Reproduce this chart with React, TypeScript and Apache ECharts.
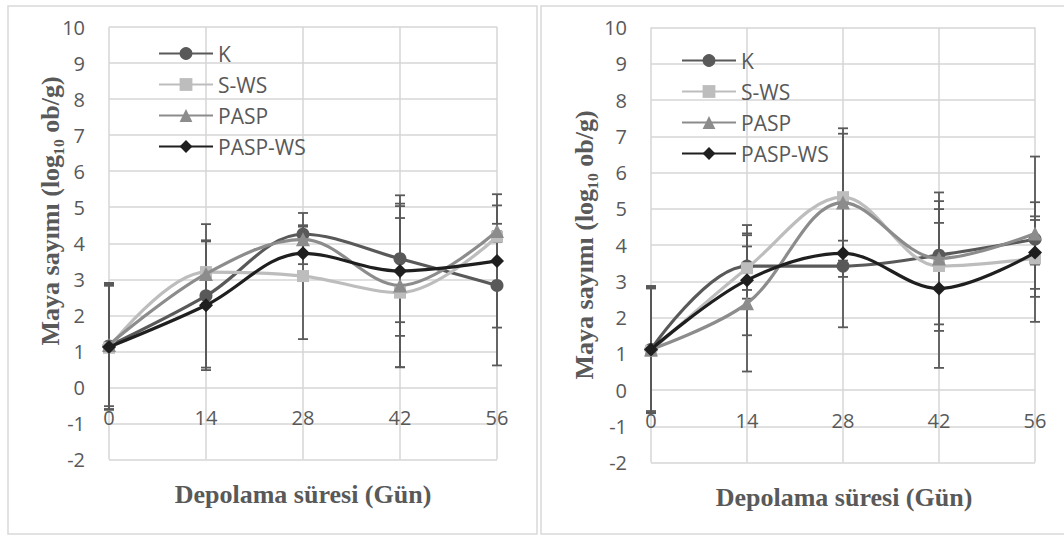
import React, { useEffect, useRef } from "react";
import * as echarts from "echarts";

const DAYS = [0, 14, 28, 42, 56];
const NAMES = ["K", "S-WS", "PASP", "PASP-WS"];
const Y_TICKS_MIN = -2;
const Y_TICKS_MAX = 10;

// Left chart values
const L_K = [1.15, 2.54, 4.25, 3.57, 2.83];
const L_SWS = [1.1, 3.2, 3.09, 2.63, 4.18];
const L_PASP = [1.18, 3.15, 4.11, 2.83, 4.34];
const L_PASPWS = [1.12, 2.28, 3.72, 3.23, 3.51];
// Left chart errors (±)
const L_K_ERR = [1.75, 1.99, 0.25, 1.76, 2.22];
const L_SWS_ERR = [1.72, 0.87, 1.75, 2.07, 0.15];
const L_PASP_ERR = [1.7, 0.9, 0.35, 2.27, 0.2];
const L_PASPWS_ERR = [1.73, 1.8, 0.3, 1.8, 1.85];

// Right chart values
const R_K = [1.12, 3.42, 3.42, 3.72, 4.16];
const R_SWS = [1.08, 3.36, 5.32, 3.42, 3.63];
const R_PASP = [1.12, 2.39, 5.17, 3.63, 4.32];
const R_PASPWS = [1.12, 3.03, 3.77, 2.8, 3.79];
// Right chart errors (±)
const R_K_ERR = [1.75, 0.9, 1.69, 0.89, 2.28];
const R_SWS_ERR = [1.72, 0.6, 1.75, 1.79, 1.06];
const R_PASP_ERR = [1.7, 1.88, 2.05, 1.82, 0.86];
const R_PASPWS_ERR = [1.74, 1.52, 0.35, 2.19, 1.0];

const COLORS = ["#595959", "#bdbdbd", "#8c8c8c", "#1f1f1f"];
const SYMBOLS = ["circle", "rect", "triangle", "diamond"];
const SYMBOL_SIZES = [13, 12, 14, 14];

const Y_TITLE = "Maya sayımı (log₁₀ ob/g)";
const X_TITLE = "Depolama süresi (Gün)";

const TEXT_COLOR = "#595959";
const GRID_COLOR = "#d6d6d6";
const FONT = "Open Sans";

function lineSeries(idx: number, values: number[], name: string, i: number) {
  return {
    type: "line",
    name,
    xAxisIndex: idx,
    yAxisIndex: idx,
    data: DAYS.map((d, k) => [d, values[k]]),
    smooth: 0.35,
    symbol: SYMBOLS[i],
    symbolSize: SYMBOL_SIZES[i],
    lineStyle: { color: COLORS[i], width: 3.2 },
    itemStyle: { color: COLORS[i] },
    z: 3 + i,
  };
}

function errSeries(idx: number, values: number[], errs: number[], name: string) {
  return {
    type: "custom",
    name: name + "-err",
    xAxisIndex: idx,
    yAxisIndex: idx,
    encode: { x: 0, y: [1, 2] },
    data: DAYS.map((d, k) => [d, values[k] - errs[k], values[k] + errs[k]]),
    z: 2,
    silent: true,
    renderItem: (params: any, api: any) => {
      const x = api.value(0);
      const lo = api.value(1);
      const hi = api.value(2);
      const p1 = api.coord([x, hi]);
      const p2 = api.coord([x, lo]);
      const w = 5;
      const st = { stroke: "#595959", lineWidth: 1.8 };
      return {
        type: "group",
        children: [
          { type: "line", shape: { x1: p1[0], y1: p1[1], x2: p2[0], y2: p2[1] }, style: st },
          { type: "line", shape: { x1: p1[0] - w, y1: p1[1], x2: p1[0] + w, y2: p1[1] }, style: st },
          { type: "line", shape: { x1: p2[0] - w, y1: p2[1], x2: p2[0] + w, y2: p2[1] }, style: st },
        ],
      };
    },
  };
}

function xAxis(idx: number, offset: number) {
  return {
    type: "value",
    gridIndex: idx,
    min: 0,
    max: 56,
    interval: 14,
    position: "bottom",
    offset,
    axisLine: { show: false, onZero: false },
    axisTick: { show: false },
    axisLabel: { color: TEXT_COLOR, fontSize: 20, fontFamily: FONT, margin: 20 },
    splitLine: { show: true, lineStyle: { color: GRID_COLOR, width: 1.5 } },
  };
}

function yAxis(idx: number) {
  return {
    type: "value",
    gridIndex: idx,
    min: Y_TICKS_MIN,
    max: Y_TICKS_MAX,
    interval: 1,
    axisLine: { show: false },
    axisTick: { show: false },
    axisLabel: { color: TEXT_COLOR, fontSize: 20, fontFamily: FONT, margin: 24 },
    splitLine: { show: true, lineStyle: { color: GRID_COLOR, width: 1.5 } },
  };
}

function legend(left: number, top: number) {
  return {
    orient: "vertical",
    left,
    top,
    itemWidth: 54,
    itemHeight: 16,
    itemGap: 10,
    data: NAMES,
    selectedMode: false,
    textStyle: { color: TEXT_COLOR, fontSize: 21, fontFamily: FONT },
  };
}

function textEl(x: number, y: number, text: string, rotate: boolean) {
  return {
    type: "text",
    x,
    y,
    rotation: rotate ? Math.PI / 2 : 0,
    style: {
      text,
      font: 'bold 26px "Liberation Serif", "Times New Roman", serif',
      fill: TEXT_COLOR,
      textAlign: "center",
      textVerticalAlign: "middle",
      align: "center",
      verticalAlign: "middle",
    },
    z: 10,
  };
}

export default function App() {
  const ref = useRef<HTMLDivElement>(null);
  useEffect(() => {
    if (!ref.current) return;
    const chart = echarts.init(ref.current, undefined, { renderer: "svg" });
    const L = [L_K, L_SWS, L_PASP, L_PASPWS];
    const LE = [L_K_ERR, L_SWS_ERR, L_PASP_ERR, L_PASPWS_ERR];
    const R = [R_K, R_SWS, R_PASP, R_PASPWS];
    const RE = [R_K_ERR, R_SWS_ERR, R_PASP_ERR, R_PASPWS_ERR];
    const series: any[] = [];
    NAMES.forEach((n, i) => series.push(errSeries(0, L[i], LE[i], n)));
    NAMES.forEach((n, i) => series.push(errSeries(1, R[i], RE[i], n)));
    NAMES.forEach((n, i) => series.push(lineSeries(0, L[i], n, i)));
    NAMES.forEach((n, i) => series.push(lineSeries(1, R[i], n, i)));
    const lh = 432.5;
    const rh = 435;
    chart.setOption({
      animation: false,
      backgroundColor: "#ffffff",
      grid: [
        { left: 109, top: 27, width: 388, height: lh },
        { left: 651, top: 27.5, width: 384, height: rh },
      ],
      xAxis: [xAxis(0, -(lh / 12) * 2), xAxis(1, -(rh / 12) * 2)],
      yAxis: [yAxis(0), yAxis(1)],
      legend: [legend(153, 38), legend(676, 45)],
      graphic: [
        {
          type: "rect",
          shape: { x: 8, y: 6, width: 529, height: 528 },
          style: { fill: "none", stroke: "#d9d9d9", lineWidth: 1.5 },
          silent: true,
        },
        {
          type: "rect",
          shape: { x: 541, y: 6, width: 540, height: 528 },
          style: { fill: "none", stroke: "#d9d9d9", lineWidth: 1.5 },
          silent: true,
        },
        textEl(50, 211, Y_TITLE, true),
        textEl(584, 245, Y_TITLE, true),
        textEl(303, 494, X_TITLE, false),
        textEl(844, 497, X_TITLE, false),
      ],
      series,
    });
    return () => chart.dispose();
  }, []);
  return (
    <div
      ref={ref}
      style={{ position: "absolute", left: 0, top: 0, width: 1064, height: 536 }}
    />
  );
}
